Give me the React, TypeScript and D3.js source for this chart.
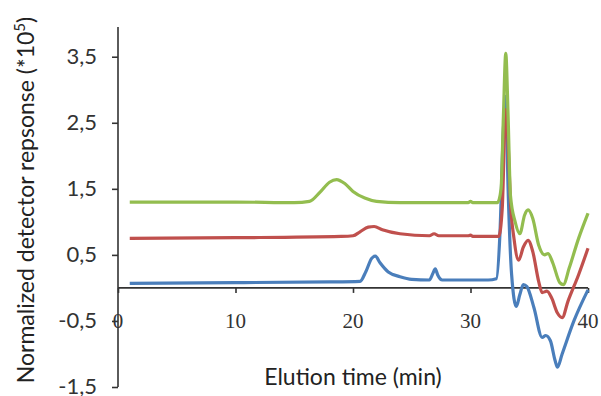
import { useEffect, useRef } from "react";
import * as d3 from "d3";

// elution time (min) / normalized response (*10^5)
const greenTime = [1, 5, 10, 15, 16.3, 17.2, 18, 18.6, 19.3, 20, 21, 22, 24, 28, 29.8, 30, 30.2, 32.3, 32.6, 32.8, 33.0, 33.2, 33.4, 33.8, 34.2, 34.6, 34.9, 35.3, 35.8, 36.3, 36.6, 37.0, 37.6, 37.9, 38.4, 39.2, 40];
const greenValue = [1.3, 1.3, 1.3, 1.29, 1.31, 1.45, 1.6, 1.64, 1.58, 1.46, 1.36, 1.31, 1.29, 1.29, 1.29, 1.31, 1.29, 1.29, 1.5, 2.6, 3.55, 2.6, 1.4, 1.0, 0.82, 1.1, 1.18, 1.05, 0.65, 0.5, 0.52, 0.38, 0.08, 0.05, 0.3, 0.75, 1.13];

const redTime = [1, 10, 19, 20, 20.6, 21.3, 21.8, 22.5, 24, 26.5, 26.9, 27.3, 29.8, 30, 30.2, 32.4, 32.7, 33.0, 33.2, 33.4, 33.7, 34.1, 34.5, 34.9, 35.3, 35.8, 36.1, 36.5, 36.9, 37.4, 37.8, 38.3, 39.2, 40];
const redValue = [0.75, 0.76, 0.78, 0.79, 0.85, 0.92, 0.93, 0.88, 0.82, 0.79, 0.82, 0.79, 0.79, 0.8, 0.78, 0.78, 1.2, 2.7, 2.2, 1.3, 0.75, 0.42, 0.62, 0.72, 0.55, 0.1, -0.07, -0.05, -0.15, -0.38, -0.45, -0.2, 0.2, 0.6];

const blueTime = [1, 10, 18, 20.6, 21.1, 21.6, 21.9, 22.3, 23, 24, 25, 26.5, 26.8, 27.0, 27.2, 27.6, 31.5, 32.2, 32.5, 32.8, 33.0, 33.2, 33.5, 33.9, 34.2, 34.5, 34.8, 35.4, 36.1, 36.4, 36.8, 37.2, 37.4, 37.8, 38.8, 40];
const blueValue = [0.07, 0.08, 0.09, 0.1, 0.25, 0.45, 0.48, 0.38, 0.24, 0.17, 0.13, 0.12, 0.22, 0.29, 0.2, 0.12, 0.12, 0.14, 0.8, 2.4, 2.9, 1.5, 0.2, -0.28, -0.1, 0.05, 0.02, -0.3, -0.75, -0.72, -0.8, -1.1, -1.2, -1.0, -0.5, -0.03];

const xTicks = [0, 10, 20, 30, 40];
const yTicks = [3.5, 2.5, 1.5, 0.5, -0.5, -1.5];
const yTickLabels = ["3,5", "2,5", "1,5", "0,5", "-0,5", "-1,5"];

const series = [
  { name: "blue", color: "#4a7ebb", time: blueTime, value: blueValue },
  { name: "red", color: "#c0504d", time: redTime, value: redValue },
  { name: "green", color: "#93bd4f", time: greenTime, value: greenValue },
];

export default function App() {
  const svgRef = useRef<SVGSVGElement>(null);

  useEffect(() => {
    const width = 601;
    const height = 396;
    const svg = d3.select(svgRef.current);
    svg.selectAll("*").remove();

    const x = d3.scaleLinear().domain([0, 40]).range([118, 588]);
    const y = d3.scaleLinear().domain([-1.5, 3.95]).range([387, 27]);
    const axisColor = "#333";

    svg.append("rect").attr("width", width).attr("height", height).attr("fill", "#fff");

    // y axis
    svg
      .append("g")
      .attr("transform", `translate(${x(0)},0)`)
      .call(d3.axisLeft(y).tickValues(yTicks).tickSize(6).tickFormat(() => ""))
      .call((g) => g.select(".domain").attr("stroke", axisColor).attr("stroke-width", 1.6).attr("d", `M-0,${y(3.95)}V${y(-1.5)}`))
      .call((g) => g.selectAll("line").attr("stroke", axisColor).attr("stroke-width", 1.6));

    svg
      .append("g")
      .selectAll("text")
      .data(yTicks)
      .join("text")
      .attr("x", 97)
      .attr("y", (d) => y(d) + 7)
      .attr("text-anchor", "end")
      .attr("font-family", "Lato, sans-serif")
      .attr("font-size", 22)
      .attr("fill", "#333")
      .text((d, i) => yTickLabels[i]);

    // x axis on zero
    svg
      .append("g")
      .attr("transform", `translate(0,${y(0)})`)
      .call(d3.axisBottom(x).tickValues(xTicks).tickSize(5).tickFormat(() => ""))
      .call((g) => g.select(".domain").attr("stroke", axisColor).attr("stroke-width", 1.6).attr("d", `M${x(0)},0H${x(40)}`))
      .call((g) => g.selectAll("line").attr("stroke", axisColor).attr("stroke-width", 1.6));

    svg
      .append("g")
      .selectAll("text")
      .data(xTicks)
      .join("text")
      .attr("x", (d) => x(d))
      .attr("y", y(0) + 40)
      .attr("text-anchor", "middle")
      .attr("font-family", "'Liberation Serif', serif")
      .attr("font-size", 21)
      .attr("fill", "#333")
      .text((d) => d);

    const line = d3
      .line<[number, number]>()
      .x((d) => x(d[0]))
      .y((d) => y(d[1]))
      .curve(d3.curveMonotoneX);

    svg
      .append("g")
      .selectAll("path")
      .data(series)
      .join("path")
      .attr("d", (s) => line(s.time.map((t, i) => [t, s.value[i]] as [number, number])))
      .attr("fill", "none")
      .attr("stroke", (s) => s.color)
      .attr("stroke-width", 3.2)
      .attr("stroke-linejoin", "round");

    svg
      .append("text")
      .attr("x", 353)
      .attr("y", 385)
      .attr("text-anchor", "middle")
      .attr("font-family", "Lato, sans-serif")
      .attr("font-size", 23)
      .attr("fill", "#222")
      .text("Elution time (min)");

    const yl = svg
      .append("text")
      .attr("transform", "translate(34,200) rotate(-90)")
      .attr("text-anchor", "middle")
      .attr("font-family", "Lato, sans-serif")
      .attr("font-size", 23)
      .attr("fill", "#222");
    yl.append("tspan").text("Normalized detector repsonse (*10");
    yl.append("tspan").attr("baseline-shift", "super").attr("font-size", 15).text("5");
    yl.append("tspan").text(")");
  }, []);

  return (
    <div style={{ position: "absolute", left: 0, top: 0 }}>
      <svg ref={svgRef} width={601} height={396} style={{ display: "block" }} />
    </div>
  );
}
